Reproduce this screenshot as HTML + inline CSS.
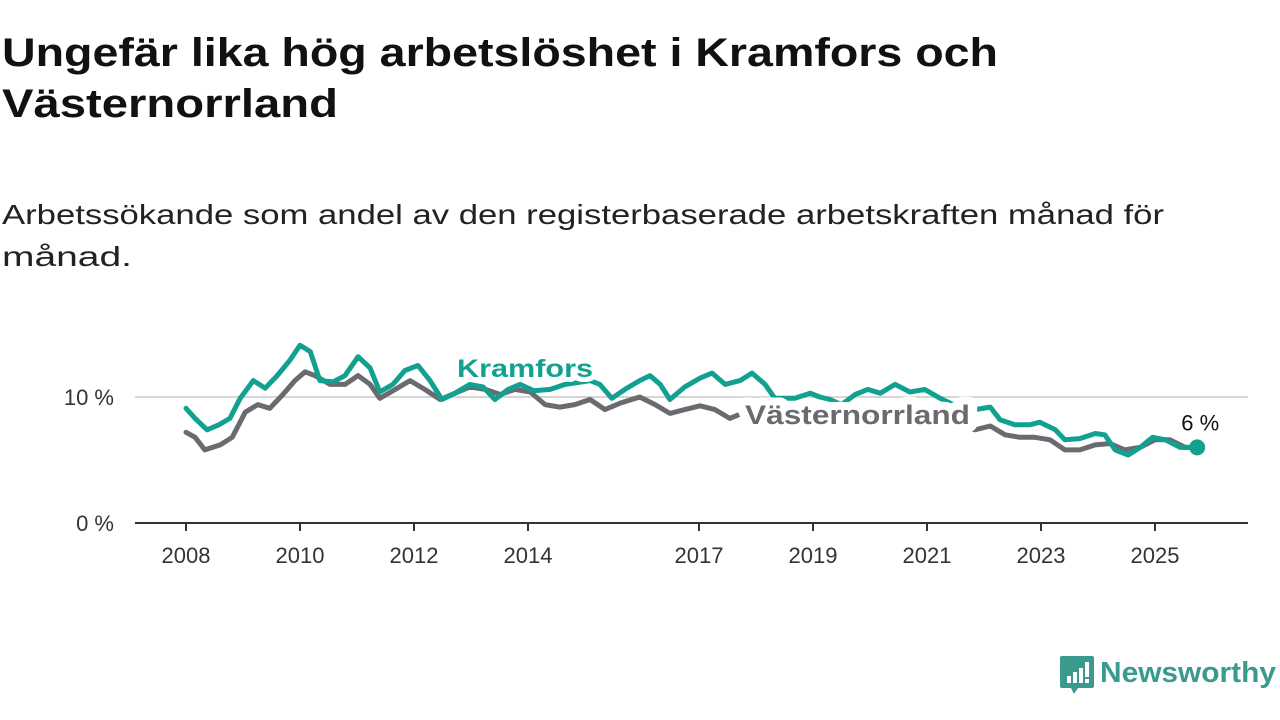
<!DOCTYPE html>
<html><head><meta charset="utf-8">
<style>
html,body{margin:0;padding:0;background:#fff;}
svg{display:block;font-family:"Liberation Sans","DejaVu Sans",sans-serif;}
</style></head>
<body>
<svg id="chart" width="1280" height="720" viewBox="0 0 1280 720">
  <text x="2" y="66" font-size="40" font-weight="bold" fill="#111" textLength="996" lengthAdjust="spacingAndGlyphs">Ungefär lika hög arbetslöshet i Kramfors och</text>
  <text x="2" y="117" font-size="40" font-weight="bold" fill="#111" textLength="336" lengthAdjust="spacingAndGlyphs">Västernorrland</text>
  <text x="2" y="224" font-size="28" fill="#222" textLength="1162" lengthAdjust="spacingAndGlyphs">Arbetssökande som andel av den registerbaserade arbetskraften månad för</text>
  <text x="2" y="266" font-size="28" fill="#222" textLength="130" lengthAdjust="spacingAndGlyphs">månad.</text>
  <g id="plot"></g>
  <g>
    <path d="M1062 656 h30 a2 2 0 0 1 2 2 v28 a2 2 0 0 1 -2 2 h-14 l-4 6 l-3 -6 h-9 a2 2 0 0 1 -2 -2 v-28 a2 2 0 0 1 2 -2z" fill="#3a9a8e"/>
    <rect x="1067" y="676" width="4" height="7" fill="#fff"/>
    <rect x="1073" y="672" width="4" height="11" fill="#fff"/>
    <rect x="1079" y="668" width="4" height="15" fill="#fff"/>
    <rect x="1085" y="662" width="4" height="15" fill="#fff"/>
    <rect x="1085" y="679" width="4" height="4" fill="#fff"/>
    <text x="1100" y="682" font-size="29" font-weight="bold" fill="#3a9a8e" textLength="176" lengthAdjust="spacingAndGlyphs">Newsworthy</text>
  </g>
</svg>
<script>
const yTicks=[0,10];
const yTickLabels=["0 %","10 %"];
const xTicks=[2008,2010,2012,2014,2017,2019,2021,2023,2025];
const kramforsDates=[2008.0,2008.16,2008.37,2008.58,2008.77,2008.95,2009.18,2009.39,2009.6,2009.82,2010.0,2010.18,2010.35,2010.58,2010.79,2011.02,2011.23,2011.4,2011.63,2011.84,2012.07,2012.28,2012.49,2012.72,2012.98,2013.21,2013.42,2013.65,2013.86,2014.1,2014.39,2014.65,2015.09,2015.26,2015.47,2015.7,2015.96,2016.14,2016.32,2016.49,2016.75,2017.02,2017.23,2017.46,2017.72,2017.93,2018.16,2018.33,2018.68,2018.95,2019.12,2019.3,2019.5,2019.74,2019.96,2020.18,2020.44,2020.7,2020.96,2021.23,2021.5,2021.84,2022.11,2022.28,2022.54,2022.81,2022.98,2023.25,2023.42,2023.68,2023.95,2024.12,2024.3,2024.53,2024.74,2024.96,2025.18,2025.44,2025.74];
const kramforsValues=[9.1,8.3,7.4,7.8,8.3,9.9,11.3,10.7,11.7,12.9,14.1,13.6,11.3,11.2,11.7,13.2,12.3,10.4,11.0,12.1,12.5,11.3,9.8,10.3,11.0,10.8,9.8,10.6,11.0,10.5,10.6,11.0,11.3,11.0,9.9,10.6,11.3,11.7,11.0,9.8,10.8,11.5,11.9,11.0,11.3,11.9,11.0,9.9,9.9,10.3,10.0,9.8,9.4,10.2,10.6,10.3,11.0,10.4,10.6,9.9,9.3,9.0,9.2,8.2,7.8,7.8,8.0,7.4,6.6,6.7,7.1,7.0,5.8,5.4,6.0,6.8,6.6,6.0,6.0];
const vnDates=[2008.0,2008.16,2008.33,2008.6,2008.81,2009.04,2009.26,2009.47,2009.7,2009.91,2010.09,2010.26,2010.53,2010.79,2011.02,2011.23,2011.4,2011.67,2011.93,2012.19,2012.46,2012.72,2012.98,2013.25,2013.51,2013.77,2014.04,2014.3,2014.56,2014.82,2015.09,2015.35,2015.61,2015.96,2016.23,2016.49,2016.75,2017.02,2017.28,2017.54,2017.81,2018.1,2018.5,2019.0,2019.5,2020.0,2020.5,2021.0,2021.5,2021.84,2022.11,2022.37,2022.63,2022.89,2023.16,2023.42,2023.68,2023.95,2024.21,2024.47,2024.74,2025.0,2025.26,2025.53,2025.74];
const vnValues=[7.2,6.8,5.8,6.2,6.8,8.8,9.4,9.1,10.2,11.3,12.0,11.7,11.0,11.0,11.7,11.0,9.9,10.6,11.3,10.6,9.8,10.3,10.8,10.6,10.2,10.6,10.4,9.4,9.2,9.4,9.8,9.0,9.5,10.0,9.4,8.7,9.0,9.3,9.0,8.3,8.8,9.0,8.7,8.6,8.3,8.6,8.5,8.4,7.9,7.4,7.7,7.0,6.8,6.8,6.6,5.8,5.8,6.2,6.3,5.8,6.0,6.6,6.6,6.0,6.0];

const NS="http://www.w3.org/2000/svg";
const plot=document.getElementById('plot');
const X0=135,X1=1248;
function xs(yr){return 186+(yr-2008)*57;}
function ys(v){return 523-v*12.6;}
function mk(tag,attrs){const e=document.createElementNS(NS,tag);for(const k in attrs)e.setAttribute(k,attrs[k]);plot.appendChild(e);return e;}

yTicks.forEach((t,i)=>{
  if(t>0){const g=mk('line',{x1:X0,x2:X1,y1:ys(t),y2:ys(t),stroke:'#d6d6d6','stroke-width':2});
  
  }
  const l=mk('text',{x:114,y:ys(t)+8,'font-size':22,fill:'#333','text-anchor':'end'});
  l.textContent=yTickLabels[i];
  
  
});
const ax=mk('line',{x1:X0,x2:X1,y1:523,y2:523,stroke:'#333','stroke-width':2});


xTicks.forEach(t=>{
  const tk=mk('line',{x1:xs(t),x2:xs(t),y1:523,y2:531,stroke:'#333','stroke-width':2});
  
  
  const l=mk('text',{x:xs(t),y:563,'font-size':22,fill:'#333','text-anchor':'middle'});
  l.textContent=String(t);
  
  
});
function line(d,v,color){
  return mk('path',{d:d.map((t,i)=>(i?'L':'M')+xs(t).toFixed(1)+' '+ys(v[i]).toFixed(1)).join(' '),fill:'none',stroke:color,'stroke-width':5,'stroke-linejoin':'round','stroke-linecap':'round'});
}
const g1=line(vnDates,vnValues,'#6b6a70');


const g2=line(kramforsDates,kramforsValues,'#12a090');


const lastI=kramforsDates.length-1;
const dot=mk('circle',{cx:xs(kramforsDates[lastI]),cy:ys(kramforsValues[lastI]),r:8,fill:'#12a090'});


const vl=mk('text',{x:xs(kramforsDates[lastI])+3,y:ys(kramforsValues[lastI])-17,'font-size':22,fill:'#111','text-anchor':'middle'});
vl.textContent=Math.round(kramforsValues[lastI])+' %';


const kl=mk('text',{x:457,y:377,'font-size':25,'font-weight':'bold',fill:'#12a090',stroke:'#fff','stroke-width':10,'paint-order':'stroke','stroke-linejoin':'round',textLength:136,lengthAdjust:'spacingAndGlyphs'});
kl.textContent='Kramfors';


const vlab=mk('text',{x:745,y:424,'font-size':27,'font-weight':'bold',fill:'#6b6a70',stroke:'#fff','stroke-width':16,'paint-order':'stroke','stroke-linejoin':'round',textLength:225,lengthAdjust:'spacingAndGlyphs'});
vlab.textContent='Västernorrland';


</script>
</body></html>
